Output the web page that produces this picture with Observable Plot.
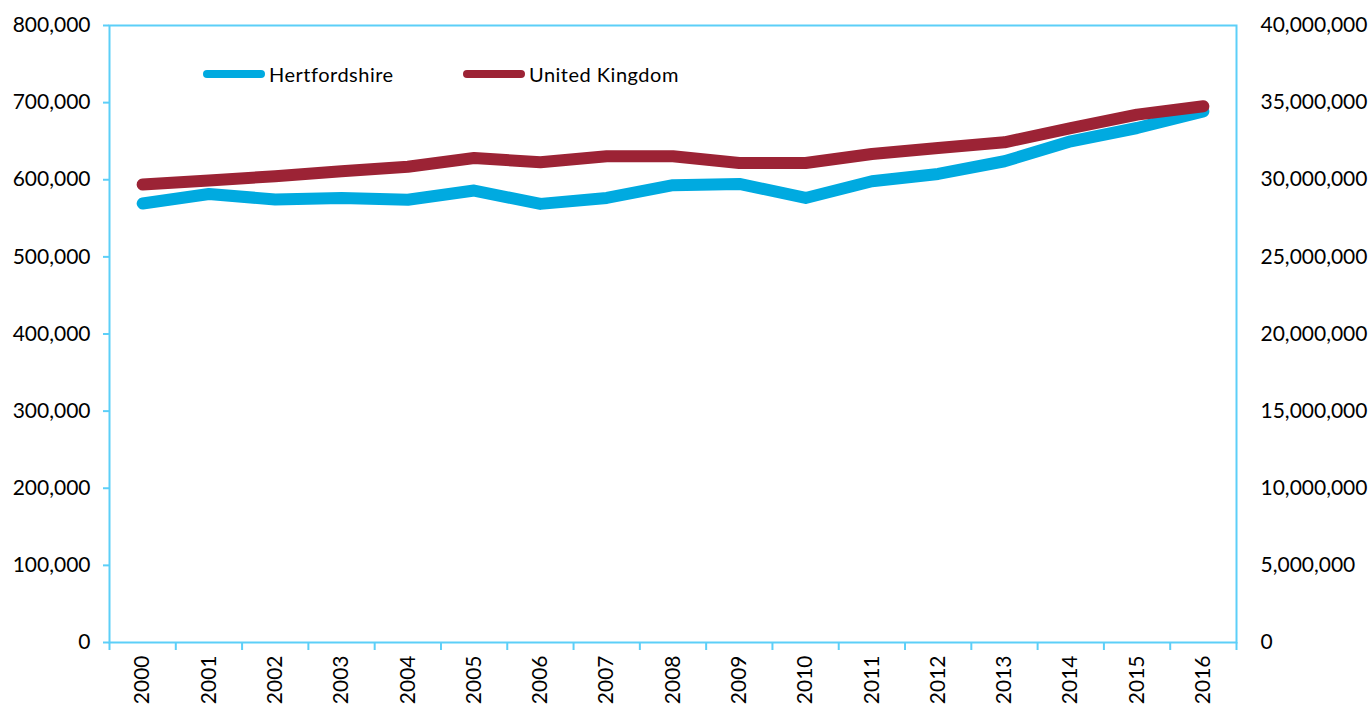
<!DOCTYPE html>
<html>
<head>
<meta charset="utf-8">
<script src="https://cdn.jsdelivr.net/npm/d3@7"></script>
<script src="https://cdn.jsdelivr.net/npm/@observablehq/plot@0.6"></script>
<style>
  html, body { margin: 0; padding: 0; background: #fff; }
  #wrap { position: relative; width: 1368px; height: 709px; font-family: Lato, "Open Sans", sans-serif; }
  .legend { position: absolute; top: 74px; left: 203px; display: flex; align-items: center; font-size: 20px; color: #000; letter-spacing: 0.5px; }
  .item { display: flex; align-items: center; position: absolute; white-space: nowrap; }
  .sw { display: inline-block; width: 62px; height: 8px; border-radius: 4px; margin-right: 4px; }
</style>
</head>
<body>
<div id="wrap">
  <div class="legend">
    <div class="item" style="left:0px;"><span class="sw" style="background:#00AAE0"></span><span>Hertfordshire</span></div>
    <div class="item" style="left:260px;"><span class="sw" style="background:#9C2335"></span><span>United Kingdom</span></div>
  </div>
</div>
<script>
const years = [2000,2001,2002,2003,2004,2005,2006,2007,2008,2009,2010,2011,2012,2013,2014,2015,2016];
const hertfordshire = [569200,581600,574400,576400,574000,586000,568700,576400,592900,594600,576400,598100,607500,624000,649800,667100,688700];
const unitedKingdom = [29690000,29950000,30230000,30550000,30840000,31410000,31130000,31520000,31520000,31090000,31090000,31670000,32060000,32430000,33350000,34220000,34760000];
const leftTicks = [0,100000,200000,300000,400000,500000,600000,700000,800000];
const rightTicks = [0,5000000,10000000,15000000,20000000,25000000,30000000,35000000,40000000];
const ratio = 40000000 / 800000;

const data = years.map((y, i) => ({year: y, herts: hertfordshire[i], uk: unitedKingdom[i]}));
const boundaries = [years[0] - 0.5, ...years.map(y => y + 0.5)];
const fmt = d3.format(",");
const frameColor = "#5CCFF8";

const chart = Plot.plot({
  width: 1368,
  height: 709,
  marginLeft: 109,
  marginRight: 132,
  marginTop: 25,
  marginBottom: 67,
  style: {fontFamily: "Lato, 'Open Sans', sans-serif", fontSize: "21px", color: "#000", background: "#fff", overflow: "visible"},
  x: {domain: [years[0] - 0.5, years[years.length - 1] + 0.5]},
  y: {domain: [0, 800000]},
  marks: [
    Plot.frame({stroke: frameColor, strokeWidth: 2}),
    Plot.axisY({ticks: leftTicks, tickSize: 6, tickPadding: 13, stroke: frameColor, strokeWidth: 2, fill: "#000", tickFormat: fmt, label: null}),
    Plot.axisY({anchor: "right", ticks: rightTicks.map(d => d / ratio), tickSize: 0, tickPadding: 24, fill: "#000", tickFormat: d => fmt(Math.round(d * ratio)), label: null}),
    Plot.axisX({ticks: boundaries, tickSize: 8, stroke: frameColor, strokeWidth: 2, tickFormat: () => "", label: null}),
    Plot.axisX({ticks: years, tickSize: 0, tickPadding: 13, tickRotate: -90, fill: "#000", tickFormat: d => String(d), label: null}),
    Plot.line(data, {x: "year", y: "herts", stroke: "#00AAE0", strokeWidth: 12, strokeLinecap: "round", strokeLinejoin: "round"}),
    Plot.line(data, {x: "year", y: d => d.uk / ratio, stroke: "#9C2335", strokeWidth: 12, strokeLinecap: "round", strokeLinejoin: "round"})
  ]
});
document.getElementById("wrap").prepend(chart);
chart.style.position = "absolute";
chart.style.left = "0";
chart.style.top = "0";
</script>
</body>
</html>
